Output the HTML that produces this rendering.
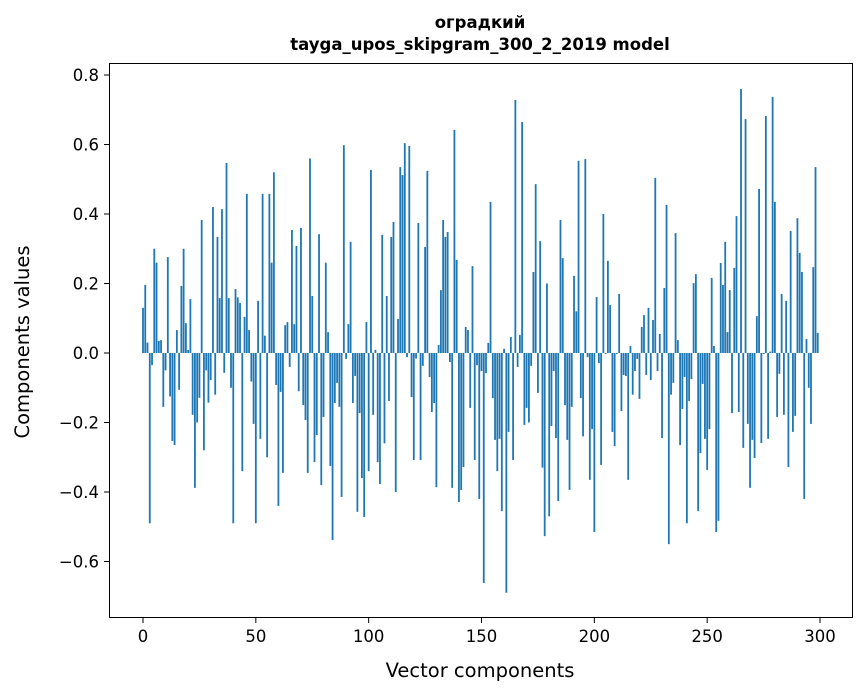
<!DOCTYPE html>
<html><head><meta charset="utf-8"><style>
body{margin:0;background:#fff;}
svg{display:block;font-family:"DejaVu Sans","Liberation Sans",sans-serif;}
</style></head><body>
<svg id="chart" width="867" height="696" viewBox="0 0 867 696">
<text x="480" y="28" text-anchor="middle" font-size="16.5" font-weight="bold">оградкий</text>
<text x="480" y="50" text-anchor="middle" font-size="16.5" font-weight="bold">tayga_upos_skipgram_300_2_2019 model</text>
<g id="bars"></g>
<g id="axes"></g>
<rect x="109.5" y="63.5" width="743" height="554" fill="none" stroke="#000" stroke-width="1"/>
<text x="480" y="677" text-anchor="middle" font-size="19.5">Vector components</text>
<text transform="translate(29,342) rotate(-90)" text-anchor="middle" font-size="19.5">Components values</text>
</svg>
<script>
const values = [0.13,0.196,0.03,-0.49,-0.035,0.30,0.26,0.035,0.037,-0.155,-0.05,0.276,-0.125,-0.253,-0.265,0.066,-0.106,0.193,0.30,0.086,0.009,0.155,-0.178,-0.388,-0.2,-0.129,0.383,-0.28,-0.05,-0.143,-0.078,0.42,-0.12,0.334,0.158,0.414,-0.057,0.547,0.158,-0.1,-0.49,0.184,0.16,0.144,-0.34,0.104,0.458,0.066,-0.082,-0.204,-0.49,0.15,-0.247,0.458,0.05,-0.3,0.458,0.26,0.52,-0.092,
-0.44,-0.112,-0.345,0.08,0.089,-0.04,0.354,0.083,0.308,-0.11,0.36,-0.15,-0.193,-0.345,0.56,0.164,-0.314,-0.236,0.342,-0.38,-0.184,0.26,0.06,-0.325,-0.538,-0.144,-0.086,-0.155,-0.414,0.598,-0.017,0.083,0.32,-0.144,-0.066,-0.457,-0.173,-0.36,-0.472,0.089,-0.34,0.527,-0.178,0.009,-0.314,-0.377,0.34,-0.26,0.164,-0.138,0.334,0.377,-0.4,0.098,0.535,0.512,0.604,-0.012,0.596,-0.127,
-0.308,-0.016,0.374,-0.308,-0.037,0.305,0.524,-0.069,-0.17,-0.144,-0.386,0.023,0.181,0.383,0.334,0.348,-0.026,-0.388,0.642,0.268,-0.429,-0.394,-0.328,0.075,0.066,-0.158,0.25,-0.308,-0.035,-0.42,-0.052,-0.662,-0.058,0.029,0.435,-0.13,-0.25,-0.34,-0.247,-0.455,0.012,-0.69,-0.227,0.046,-0.308,0.728,-0.04,0.052,0.665,-0.207,-0.158,-0.2,-0.037,0.233,0.486,-0.115,0.322,-0.33,-0.527,0.2,
-0.47,-0.21,-0.052,-0.245,-0.426,0.383,0.273,-0.15,-0.25,-0.394,-0.155,0.222,0.12,0.553,-0.13,-0.24,0.558,-0.012,-0.365,-0.219,-0.515,0.161,-0.029,-0.322,0.4,-0.003,0.265,0.138,-0.227,-0.268,-0.003,0.17,-0.167,-0.063,-0.066,-0.365,0.02,-0.12,-0.052,-0.017,-0.132,0.075,0.109,-0.063,0.13,-0.078,0.095,0.504,-0.052,0.055,-0.245,0.187,0.426,-0.55,-0.12,-0.086,0.345,0.037,-0.265,-0.161,
-0.069,-0.49,-0.138,-0.075,0.201,0.227,-0.455,-0.288,-0.089,-0.247,-0.337,-0.219,0.216,0.02,-0.515,-0.483,0.259,0.196,0.32,0.06,0.181,-0.173,0.245,0.394,-0.17,0.76,-0.273,0.673,-0.204,-0.388,-0.25,-0.302,0.106,0.472,-0.259,-0.003,0.682,-0.247,0.004,0.737,0.435,-0.184,-0.06,0.17,-0.178,0.15,-0.328,0.351,-0.227,-0.181,0.388,0.288,0.233,-0.42,0.04,-0.1,-0.204,0.247,0.535,0.058];
const yTicks = [-0.6,-0.4,-0.2,0.0,0.2,0.4,0.6,0.8];
const yTickLabels = ["\u22120.6","\u22120.4","\u22120.2","0.0","0.2","0.4","0.6","0.8"];
const xTicks = [0,50,100,150,200,250,300];

const NS="http://www.w3.org/2000/svg";
const xs = v => 143 + v*2.2567;
const ys = v => 353 - v*347.5;
const bars=document.getElementById('bars');
values.forEach((v,i)=>{
  const r=document.createElementNS(NS,'rect');
  
  
  const y0=ys(0), y1=ys(v);
  r.setAttribute('x',(xs(i)-0.9).toFixed(2));
  r.setAttribute('width','1.8');
  r.setAttribute('y',Math.min(y0,y1).toFixed(2));
  r.setAttribute('height',Math.abs(y1-y0).toFixed(2));
  r.setAttribute('fill','#1f77b4');
  bars.appendChild(r);
});
const axes=document.getElementById('axes');
yTicks.forEach((t,k)=>{
  const y=ys(t);
  const l=document.createElementNS(NS,'line');
  
  
  l.setAttribute('x1',104);l.setAttribute('x2',109.5);l.setAttribute('y1',y);l.setAttribute('y2',y);
  l.setAttribute('stroke','#000');
  axes.appendChild(l);
  const tx=document.createElementNS(NS,'text');
  
  
  tx.setAttribute('x',99);tx.setAttribute('y',y+6);
  tx.setAttribute('text-anchor','end');tx.setAttribute('font-size','16.5');
  tx.textContent=yTickLabels[k];
  axes.appendChild(tx);
});
xTicks.forEach(t=>{
  const x=xs(t);
  const l=document.createElementNS(NS,'line');
  
  
  l.setAttribute('x1',x);l.setAttribute('x2',x);l.setAttribute('y1',617.5);l.setAttribute('y2',623);
  l.setAttribute('stroke','#000');
  axes.appendChild(l);
  const tx=document.createElementNS(NS,'text');
  
  
  tx.setAttribute('x',x);tx.setAttribute('y',642);
  tx.setAttribute('text-anchor','middle');tx.setAttribute('font-size','16.5');
  tx.textContent=String(t);
  axes.appendChild(tx);
});
</script>
</body></html>
